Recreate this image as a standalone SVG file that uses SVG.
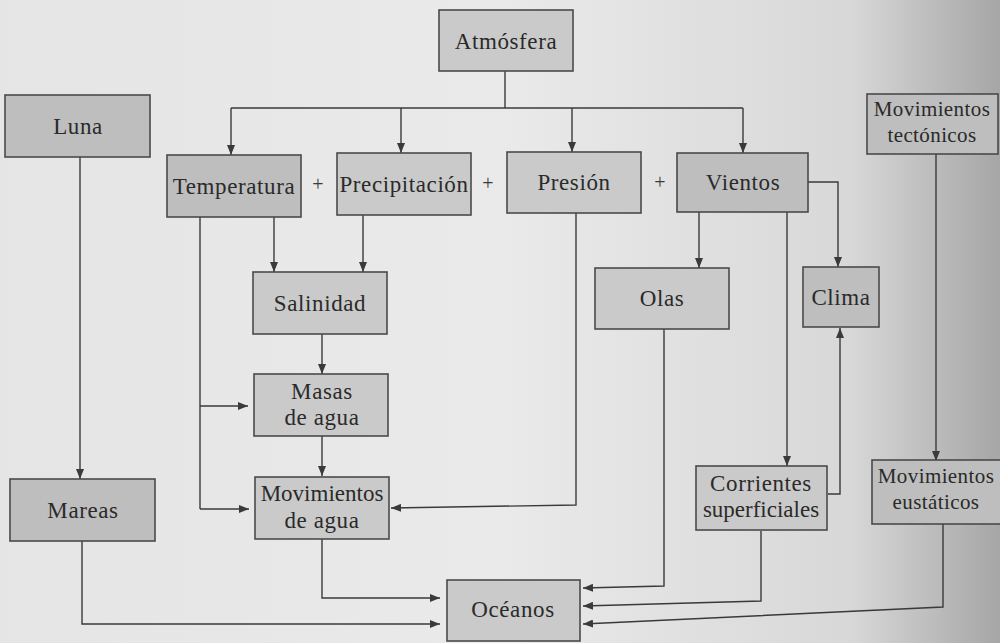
<svg xmlns="http://www.w3.org/2000/svg" width="1000" height="643" viewBox="0 0 1000 643">
  <defs>
    <linearGradient id="paper" x1="0" y1="0" x2="1" y2="0">
      <stop offset="0" stop-color="#e5e5e5"/>
      <stop offset="0.5" stop-color="#eaeaea"/>
      <stop offset="0.85" stop-color="#d8d8d8"/>
      <stop offset="1" stop-color="#a6a6a6"/>
    </linearGradient>
    <marker id="arrow" viewBox="0 0 10 8" refX="10" refY="4" markerWidth="10" markerHeight="8" markerUnits="userSpaceOnUse" orient="auto">
      <path d="M0,0 L10,4 L0,8 Z" fill="#3a3a3a"/>
    </marker>
    <style>
      .box { fill: #cacaca; stroke: #4a4a4a; stroke-width: 1.6; }
      .dark { fill: #bebebe; }
      .lbl { font-size: 23px; fill: #2a2a2a; text-anchor: middle; letter-spacing: 0.6px; }
      .sm { font-size: 21px; letter-spacing: 0.4px; }
      .plus { font-size: 20px; fill: #3a3a3a; text-anchor: middle; }
      .wire { fill: none; stroke: #3a3a3a; stroke-width: 1.4; }
      .arr { marker-end: url(#arrow); }
    </style>
  </defs>

  <rect x="0" y="0" width="1000" height="643" fill="url(#paper)"/>

  <!-- connectors -->
  <g id="connectors">
    <!-- Atmósfera fan-out -->
    <path class="wire" d="M505,71 V108"/>
    <path class="wire" d="M231,108 H743"/>
    <path class="wire arr" d="M231,108 V155"/>
    <path class="wire arr" d="M401,108 V153"/>
    <path class="wire arr" d="M572,108 V152"/>
    <path class="wire arr" d="M743,108 V153"/>

    <!-- into Salinidad -->
    <path class="wire arr" d="M274,217 V272"/>
    <path class="wire arr" d="M363,215 V272"/>
    <!-- Salinidad to Masas, Masas to Movimientos de agua -->
    <path class="wire arr" d="M322,334 V374"/>
    <path class="wire arr" d="M322,436 V476"/>
    <!-- Temperatura to Masas / Movimientos de agua -->
    <path class="wire" d="M200,217 V509"/>
    <path class="wire arr" d="M200,406 H248"/>
    <path class="wire arr" d="M200,509 H249"/>
    <!-- Presión to Movimientos de agua -->
    <path class="wire arr" d="M576,213 V505 L391,508"/>

    <!-- Luna to Mareas -->
    <path class="wire arr" d="M80,157 V479"/>
    <!-- to Océanos -->
    <path class="wire arr" d="M82,541 V624 H440"/>
    <path class="wire arr" d="M322,539 V598 H440"/>
    <path class="wire arr" d="M664,329 V586 L583,588"/>
    <path class="wire arr" d="M761,531 V601 L583,606"/>
    <path class="wire arr" d="M943,524 V607 L583,624"/>

    <!-- Vientos branches -->
    <path class="wire arr" d="M699,212 V268"/>
    <path class="wire arr" d="M787,212 V466"/>
    <path class="wire arr" d="M808,182 H838 V267"/>
    <!-- Corrientes to Clima -->
    <path class="wire arr" d="M828,494 H840 V328"/>

    <!-- tectónicos to eustáticos -->
    <path class="wire arr" d="M936,154 V461"/>

    <!-- plus signs -->
    <g font-family="Liberation Serif, Times New Roman, DejaVu Serif, serif">
      <text class="plus" x="318" y="191">+</text>
      <text class="plus" x="488" y="190">+</text>
      <text class="plus" x="660" y="189">+</text>
    </g>
  </g>

  <!-- nodes -->
  <g id="nodes" font-family="Liberation Serif, Times New Roman, DejaVu Serif, serif">
  <g id="atmosfera">
    <rect class="box" x="439" y="10" width="134" height="61"/>
    <text class="lbl" x="506" y="49">Atmósfera</text>
  </g>
  <g id="luna">
    <rect class="box dark" x="5" y="95" width="145" height="62"/>
    <text class="lbl" x="78" y="134">Luna</text>
  </g>
  <g id="temperatura">
    <rect class="box dark" x="167" y="155" width="134" height="62"/>
    <text class="lbl" x="234" y="194">Temperatura</text>
  </g>
  <g id="precipitacion">
    <rect class="box" x="337" y="153" width="134" height="62"/>
    <text class="lbl" x="404" y="192">Precipitación</text>
  </g>
  <g id="presion">
    <rect class="box" x="507" y="152" width="134" height="61"/>
    <text class="lbl" x="574" y="190">Presión</text>
  </g>
  <g id="vientos">
    <rect class="box dark" x="677" y="153" width="131" height="59"/>
    <text class="lbl" x="743" y="190">Vientos</text>
  </g>
  <g id="tectonicos">
    <rect class="box dark" x="867" y="94" width="131" height="60"/>
    <text class="lbl sm" x="932" y="116">Movimientos</text>
    <text class="lbl sm" x="932" y="142">tectónicos</text>
  </g>
  <g id="salinidad">
    <rect class="box" x="253" y="272" width="134" height="62"/>
    <text class="lbl" x="320" y="311">Salinidad</text>
  </g>
  <g id="masas">
    <rect class="box" x="254" y="374" width="134" height="62"/>
    <text class="lbl" x="322" y="399">Masas</text>
    <text class="lbl" x="322" y="425">de agua</text>
  </g>
  <g id="olas">
    <rect class="box" x="595" y="268" width="134" height="61"/>
    <text class="lbl" x="662" y="306">Olas</text>
  </g>
  <g id="clima">
    <rect class="box dark" x="803" y="267" width="76" height="60"/>
    <text class="lbl" x="841" y="305">Clima</text>
  </g>
  <g id="mareas">
    <rect class="box dark" x="10" y="479" width="145" height="62"/>
    <text class="lbl" x="83" y="518">Mareas</text>
  </g>
  <g id="movimientos-agua">
    <rect class="box" x="255" y="477" width="134" height="62"/>
    <text class="lbl" x="322" y="501" style="letter-spacing:0">Movimientos</text>
    <text class="lbl" x="322" y="528">de agua</text>
  </g>
  <g id="corrientes">
    <rect class="box" x="696" y="466" width="131" height="64"/>
    <text class="lbl" x="761" y="491">Corrientes</text>
    <text class="lbl" x="761" y="517" style="letter-spacing:0">superficiales</text>
  </g>
  <g id="eustaticos">
    <rect class="box dark" x="872" y="460" width="130" height="64"/>
    <text class="lbl sm" x="936" y="483">Movimientos</text>
    <text class="lbl sm" x="936" y="509">eustáticos</text>
  </g>
  <g id="oceanos">
    <rect class="box" x="447" y="580" width="133" height="61"/>
    <text class="lbl" x="513" y="617">Océanos</text>
  </g>
  </g>
</svg>
